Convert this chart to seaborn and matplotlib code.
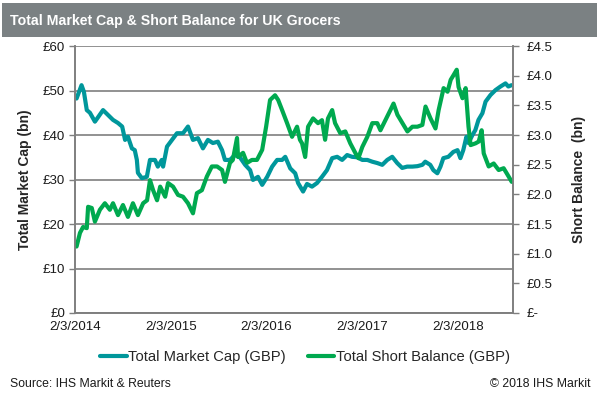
import matplotlib
matplotlib.use('Agg')
import pandas as pd
import seaborn as sns
import numpy as np
import matplotlib.pyplot as plt
import matplotlib.dates as mdates
from matplotlib.patches import Rectangle
from matplotlib.ticker import FuncFormatter, MultipleLocator

# total market cap, GBP bn (left axis)
cap_dates = ["2014-02-09", "2014-02-28", "2014-03-09", "2014-03-20", "2014-04-01", "2014-04-20",
             "2014-05-02", "2014-05-21", "2014-06-09", "2014-06-28", "2014-07-17", "2014-08-02",
             "2014-08-13", "2014-08-24", "2014-09-08", "2014-09-19", "2014-09-27", "2014-10-01",
             "2014-10-16", "2014-11-04", "2014-11-16", "2014-12-05", "2014-12-16", "2014-12-31",
             "2015-01-05", "2015-01-20", "2015-02-08", "2015-02-27", "2015-03-22", "2015-04-10",
             "2015-04-29", "2015-05-18", "2015-06-06", "2015-06-25", "2015-07-14", "2015-08-02",
             "2015-08-18", "2015-08-29", "2015-09-17", "2015-10-06", "2015-10-25", "2015-11-14",
             "2015-12-03", "2015-12-14", "2016-01-02", "2016-01-18", "2016-02-06", "2016-02-25",
             "2016-03-15", "2016-04-03", "2016-04-15", "2016-05-04", "2016-05-23", "2016-06-03",
             "2016-06-22", "2016-07-07", "2016-07-26", "2016-08-14", "2016-09-02", "2016-09-21",
             "2016-10-11", "2016-10-30", "2016-11-18", "2016-12-07", "2016-12-26", "2017-01-14",
             "2017-02-03", "2017-02-22", "2017-03-13", "2017-04-01", "2017-04-20", "2017-05-09",
             "2017-05-28", "2017-06-16", "2017-07-05", "2017-07-24", "2017-08-13", "2017-09-01",
             "2017-09-20", "2017-10-01", "2017-10-20", "2017-11-01", "2017-11-16", "2017-11-28",
             "2017-12-09", "2017-12-28", "2018-01-16", "2018-02-01", "2018-02-12", "2018-02-23",
             "2018-03-07", "2018-03-15", "2018-03-30", "2018-04-10", "2018-04-22", "2018-05-07",
             "2018-05-19", "2018-06-07", "2018-06-26", "2018-07-15", "2018-08-03", "2018-08-14",
             "2018-08-26"]
cap_values = [48.2, 51.2, 49.7, 45.6, 45.0, 43.0,
              44.0, 45.6, 44.5, 43.4, 42.7, 41.9,
              38.9, 39.6, 37.0, 36.6, 34.4, 31.5,
              30.3, 30.6, 34.4, 34.4, 32.9, 34.4,
              32.9, 37.4, 38.9, 40.4, 40.4, 41.9,
              38.9, 39.3, 37.0, 38.9, 38.2, 38.5,
              36.6, 34.4, 34.4, 35.5, 35.0, 33.3,
              32.1, 29.9, 30.6, 28.8, 30.6, 32.9,
              34.4, 34.4, 35.1, 32.5, 31.4, 29.2,
              27.3, 29.0, 28.4, 29.2, 30.6, 32.1,
              34.8, 35.1, 34.4, 35.5, 35.1, 35.0,
              34.4, 34.4, 34.0, 33.7, 33.3, 34.4,
              35.1, 33.7, 32.6, 32.9, 32.9, 33.0,
              33.3, 34.0, 33.3, 32.1, 31.4, 32.9,
              34.8, 35.1, 36.2, 36.6, 34.8, 36.6,
              39.6, 38.2, 40.0, 41.1, 43.4, 44.9,
              47.5, 49.0, 50.1, 50.9, 51.6, 50.9,
              51.2]

# total short balance, GBP bn (right axis)
short_dates = ["2014-02-09", "2014-02-22", "2014-03-06", "2014-03-20", "2014-03-25", "2014-04-08",
               "2014-04-20", "2014-05-09", "2014-05-28", "2014-06-16", "2014-06-28", "2014-07-17",
               "2014-08-05", "2014-08-24", "2014-09-12", "2014-10-01", "2014-10-21", "2014-11-05",
               "2014-11-16", "2014-11-28", "2014-12-13", "2014-12-25", "2015-01-13", "2015-01-24",
               "2015-02-12", "2015-03-03", "2015-03-22", "2015-04-10", "2015-04-29", "2015-05-14",
               "2015-06-02", "2015-06-21", "2015-07-10", "2015-07-30", "2015-08-18", "2015-08-29",
               "2015-09-17", "2015-09-28", "2015-10-14", "2015-10-18", "2015-11-06", "2015-11-21",
               "2015-12-10", "2015-12-29", "2016-01-18", "2016-02-02", "2016-02-17", "2016-03-07",
               "2016-03-19", "2016-04-03", "2016-04-22", "2016-05-11", "2016-05-30", "2016-06-10",
               "2016-06-18", "2016-06-30", "2016-07-11", "2016-07-30", "2016-08-18", "2016-09-02",
               "2016-09-14", "2016-09-25", "2016-10-11", "2016-10-22", "2016-11-11", "2016-11-30",
               "2016-12-19", "2017-01-07", "2017-01-19", "2017-02-03", "2017-02-22", "2017-03-13",
               "2017-04-01", "2017-04-13", "2017-05-02", "2017-05-21", "2017-06-02", "2017-06-17",
               "2017-07-06", "2017-07-25", "2017-08-13", "2017-09-01", "2017-09-20", "2017-10-02",
               "2017-10-21", "2017-11-09", "2017-11-21", "2017-12-10", "2017-12-25", "2018-01-06",
               "2018-01-17", "2018-01-29", "2018-02-05", "2018-02-20", "2018-03-04", "2018-03-15",
               "2018-03-23", "2018-04-11", "2018-04-23", "2018-05-04", "2018-05-12", "2018-05-31",
               "2018-06-19", "2018-07-08", "2018-07-27", "2018-08-11", "2018-08-27"]
short_values = [1.12, 1.35, 1.45, 1.43, 1.79, 1.77,
                1.54, 1.74, 1.85, 1.74, 1.85, 1.65,
                1.82, 1.62, 1.85, 1.65, 1.85, 1.90,
                2.24, 2.07, 1.90, 2.13, 1.96, 2.19,
                2.13, 1.99, 1.96, 1.85, 1.68, 2.02,
                2.07, 2.30, 2.47, 2.47, 2.41, 2.21,
                2.53, 2.58, 2.95, 2.63, 2.70, 2.53,
                2.58, 2.58, 2.75, 3.14, 3.59, 3.67,
                3.59, 3.42, 3.20, 2.97, 3.14, 2.92,
                2.86, 2.63, 3.14, 3.28, 3.20, 3.25,
                2.92, 3.28, 3.42, 3.20, 3.03, 3.06,
                2.86, 2.70, 2.61, 2.80, 2.97, 3.20,
                3.20, 3.08, 3.25, 3.42, 3.53, 3.34,
                3.20, 3.06, 3.14, 3.14, 3.17, 3.48,
                3.28, 3.11, 3.42, 3.79, 3.73, 3.93,
                4.01, 4.10, 3.81, 3.62, 3.79, 3.14,
                2.83, 2.86, 2.89, 3.08, 2.69, 2.47,
                2.52, 2.41, 2.44, 2.33, 2.21]

tick_dates = ["2014-02-03", "2015-02-03", "2016-02-03", "2017-02-03", "2018-02-03"]

cap = pd.DataFrame({"date": pd.to_datetime(cap_dates), "value": cap_values})
short = pd.DataFrame({"date": pd.to_datetime(short_dates), "value": short_values})

TEAL = "#00979b"
GREEN = "#00a94f"
GREY = "#7f7f7f"

sns.set_style("white")
plt.rcParams['font.family'] = ['Liberation Sans', 'DejaVu Sans']

fig = plt.figure(figsize=(5.98, 3.95), dpi=100)
ax = fig.add_axes([0.1254, 0.2076, 0.858 - 0.1254, 0.8835 - 0.2076])
ax2 = ax.twinx()

sns.lineplot(data=cap, x="date", y="value", ax=ax, color=TEAL, lw=2.4, label="Total Market Cap (GBP)", legend=False)
sns.lineplot(data=short, x="date", y="value", ax=ax2, color=GREEN, lw=2.4, label="Total Short Balance (GBP)", legend=False)

ax.set_xlim(pd.Timestamp("2014-02-03"), pd.Timestamp("2018-09-01"))
ax.set_ylim(0, 60)
ax2.set_ylim(0, 4.5)
ax.yaxis.set_major_locator(MultipleLocator(10))
ax2.yaxis.set_major_locator(MultipleLocator(0.5))
ax.yaxis.set_major_formatter(FuncFormatter(lambda v, p: "£%d" % v))
ax2.yaxis.set_major_formatter(FuncFormatter(lambda v, p: "£-" if v == 0 else "£%.1f" % v))
ax.set_xticks(pd.to_datetime(tick_dates))
ax.xaxis.set_major_formatter(FuncFormatter(lambda v, p: "%d/%d/%d" % (mdates.num2date(v).month, mdates.num2date(v).day, mdates.num2date(v).year)))

ax.grid(axis="y", color=GREY, lw=1.2)
ax.set_axisbelow(True)
for a in (ax, ax2):
    a.spines["top"].set_visible(False)
    for s in ("left", "right", "bottom"):
        a.spines[s].set_color(GREY)
        a.spines[s].set_linewidth(1.2)
    a.tick_params(colors=GREY, labelcolor="#1a1a1a", labelsize=9.5, length=4, width=1, direction="out")
ax.tick_params(axis="y", pad=3)
ax2.tick_params(axis="y", pad=6)
ax.tick_params(axis="x", pad=2)

ax.set_xlabel("")
ax.set_ylabel("Total Market Cap (bn)", fontsize=10, fontweight="bold", labelpad=8)
ax2.set_ylabel("Short Balance  (bn)", fontsize=10, fontweight="bold", rotation=90, labelpad=14)

# title band
fig.patches.append(Rectangle((0.004, 0.907), 0.994, 0.085, transform=fig.transFigure,
                             facecolor="#7b8183", edgecolor="none"))
fig.text(0.016, 0.948, "Total Market Cap & Short Balance for UK Grocers", color="white",
         fontsize=10.2, fontweight="bold", va="center", ha="left")

h1, l1 = ax.get_legend_handles_labels()
h2, l2 = ax2.get_legend_handles_labels()
for h in h1 + h2:
    h.set_linewidth(3)
fig.legend(h1 + h2, l1 + l2, loc="center", bbox_to_anchor=(0.51, 0.097), ncol=2, frameon=False,
           fontsize=10.6, handlelength=1.8, handletextpad=0.1, columnspacing=1.5)

fig.text(0.016, 0.027, "Source: IHS Markit & Reuters", fontsize=8.8, color="#1a1a1a", va="center")
fig.text(0.987, 0.027, "© 2018 IHS Markit", fontsize=8.8, color="#1a1a1a", va="center", ha="right")

fig.savefig("out.png", dpi=100)
